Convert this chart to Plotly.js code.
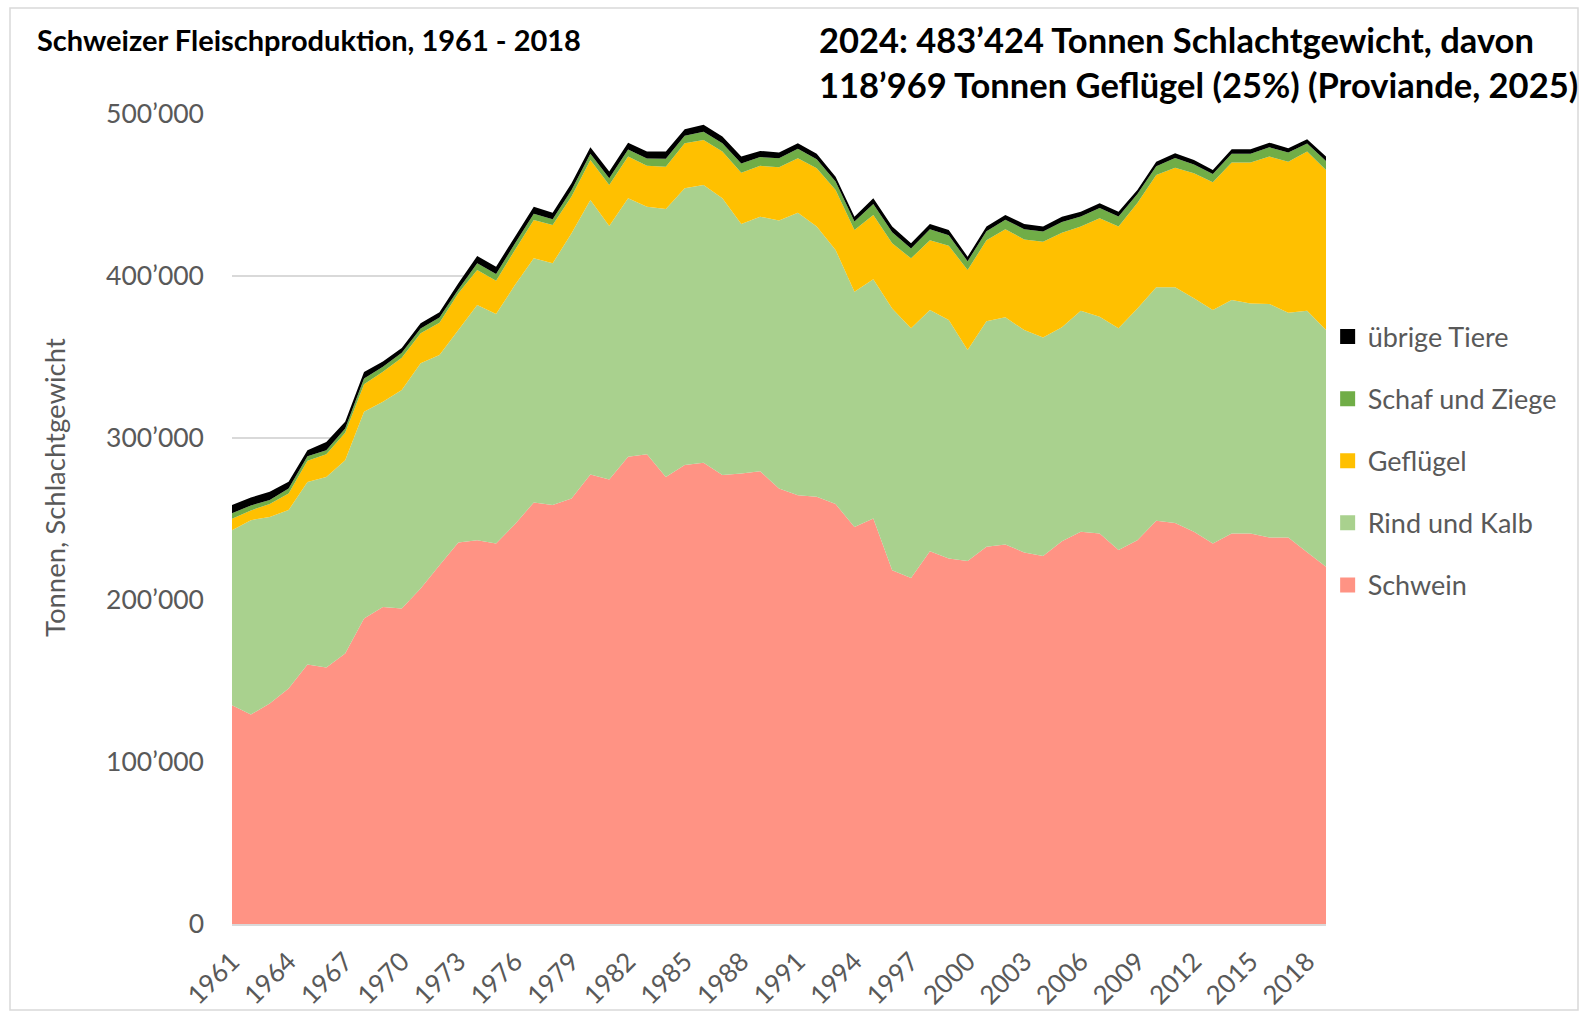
<!DOCTYPE html>
<html>
<head>
<meta charset="utf-8">
<script src="https://cdn.plot.ly/plotly-3.0.1.min.js"></script>
<style>html,body{margin:0;padding:0;background:#fff;}#chart{width:1581px;height:1016px;}</style>
</head>
<body>
<div id="chart"></div>
<script>
const years = [1961,1962,1963,1964,1965,1966,1967,1968,1969,1970,
  1971,1972,1973,1974,1975,1976,1977,1978,1979,1980,
  1981,1982,1983,1984,1985,1986,1987,1988,1989,1990,
  1991,1992,1993,1994,1995,1996,1997,1998,1999,2000,
  2001,2002,2003,2004,2005,2006,2007,2008,2009,2010,
  2011,2012,2013,2014,2015,2016,2017,2018,2019];

const schwein = [135000,129300,136100,145300,160200,158300,167000,188600,195700,194700,
  207100,221500,235500,236900,234900,246800,260200,258600,262700,277500,
  274400,288400,289900,276000,283300,284700,277100,278100,279400,268900,
  264700,263700,259200,245100,250300,218400,213600,230100,225600,224000,
  232800,234300,229300,227100,236300,242100,241100,230800,236900,248900,
  247600,242100,234900,241100,241100,238600,238600,229500,220500];

const rindKalb = [108100,120000,115200,110200,112700,117700,119300,127600,126700,134900,
  139000,129700,131100,145200,141600,147600,150700,149200,163700,169400,
  156500,159600,152900,165400,170900,171500,170900,154000,157200,165300,
  174400,166800,156900,145200,147700,161600,154100,148900,147200,130300,
  139200,140200,137300,135000,132000,136500,133800,136900,143100,144100,
  145400,144100,144100,144100,142000,144100,138700,149100,146100];

const gefluegel = [7000,6000,8000,10300,13000,14000,16900,17000,18500,20000,
  18500,20000,22700,21600,20600,21700,23700,23700,22600,24700,
  25300,25700,25200,26100,27800,27800,28800,31700,31400,32900,
  33600,36000,37000,38100,39700,40200,43200,43000,45900,49400,
  50000,54300,56000,59100,58400,51900,60700,62800,65100,69400,
  73800,77200,78900,84800,86900,91000,93300,98200,98900];

const schafZiege = [3500,3000,2500,3000,2900,2500,2700,3500,3100,3000,
  3000,3200,2400,4200,4100,3900,3900,3600,4100,3900,
  4100,4400,4500,4800,4600,5000,5100,5700,5400,5600,
  5800,5600,5200,5200,6800,6800,6100,6800,6500,5400,
  5700,5900,6300,6300,6700,6200,6300,6200,5500,5400,
  6000,5400,5000,5500,5500,5800,5600,5000,5500];

const uebrige = [5000,5000,5000,4200,3700,5000,4100,4100,3200,3000,
  3200,3200,3800,4500,4500,4300,4300,4000,4200,4000,
  4200,4200,4300,4500,4000,4300,4200,4200,3800,3500,
  3500,3300,3000,3000,3500,3500,3200,3300,3200,2800,
  2800,3000,3200,3000,3200,3000,3000,3000,2500,2800,
  3000,2800,2600,2800,2800,2800,2700,2600,2700];

const tickYears = [1961,1964,1967,1970,1973,1976,1979,1982,1985,1988,1991,1994,1997,2000,2003,2006,2009,2012,2015,2018];
const tickLabels = ['1961','1964','1967','1970','1973','1976','1979','1982','1985','1988','1991','1994','1997','2000','2003','2006','2009','2012','2015','2018'];

const seriesNames = ['Schwein','Rind und Kalb','Geflügel','Schaf und Ziege','übrige Tiere'];
const seriesValues = [schwein, rindKalb, gefluegel, schafZiege, uebrige];
const seriesColors = ['#FF9384','#A9D18E','#FFC000','#70AD47','#000000'];

const FONT = 'Lato, "Open Sans", sans-serif';
const GREY = '#595959';

const traces = [];
seriesNames.forEach((n, i) => {
  traces.push({
    x: years, y: seriesValues[i], type: 'scatter', mode: 'none',
    stackgroup: 'one', fillcolor: seriesColors[i], line: {width: 0},
    name: n, showlegend: false, hoverinfo: 'x+y+name'
  });
});
// legend entries (square markers), top to bottom
for (let i = seriesNames.length - 1; i >= 0; i--) {
  traces.push({
    x: [null], y: [null], type: 'scatter', mode: 'markers',
    marker: {symbol: 'square', size: 15, color: seriesColors[i]},
    name: seriesNames[i], legendgroup: seriesNames[i], showlegend: true, hoverinfo: 'skip'
  });
}

const L = 232, R = 255, T = 114, B = 92, W = 1581, H = 1016;
const pw = W - L - R, ph = H - T - B;
const px = v => (v - L) / pw;
const py = v => 1 - (v - T) / ph;

const layout = {
  width: W, height: H,
  margin: {l: L, r: R, t: T, b: B, autoexpand: false},
  paper_bgcolor: '#ffffff', plot_bgcolor: '#ffffff',
  separators: '.’',
  font: {family: FONT, color: GREY},
  title: {
    text: '<b>Schweizer Fleischproduktion, 1961 - 2018</b>',
    font: {family: FONT, size: 29, color: '#000000'},
    xref: 'container', yref: 'container', x: 37 / W, xanchor: 'left', y: 1 - 41 / H, yanchor: 'middle'
  },
  xaxis: {
    type: 'linear', range: [1961, 2019], tickmode: 'array', tickvals: tickYears, ticktext: tickLabels,
    tickangle: -45, tickfont: {family: FONT, size: 26, color: GREY},
    showgrid: false, zeroline: false, showline: true, linecolor: '#D9D9D9', linewidth: 2,
    ticks: '', ticklabelstandoff: 10, fixedrange: true
  },
  yaxis: {
    range: [0, 500000], dtick: 100000, tickformat: ',d',
    tickfont: {family: FONT, size: 26.5, color: GREY},
    showgrid: true, gridcolor: '#D9D9D9', gridwidth: 2, zeroline: false, showline: false,
    ticks: '', ticklabelstandoff: 27, automargin: false, fixedrange: true
  },
  legend: {
    x: 1.0015, xanchor: 'left', y: py(461), yanchor: 'middle',
    font: {family: FONT, size: 27, color: GREY},
    traceorder: 'grouped', tracegroupgap: 24, bgcolor: 'rgba(0,0,0,0)', itemwidth: 30
  },
  annotations: [
    {xref: 'paper', yref: 'paper', x: px(55), y: py(488), xanchor: 'center', yanchor: 'middle',
     text: 'Tonnen, Schlachtgewicht', textangle: -90, showarrow: false,
     font: {family: FONT, size: 27.5, color: GREY}},
    {xref: 'paper', yref: 'paper', x: px(817), y: py(39), xanchor: 'left', yanchor: 'middle',
     text: '<b>2024: 483’424 Tonnen Schlachtgewicht, davon</b>', showarrow: false,
     font: {family: FONT, size: 34.5, color: '#000000'}, align: 'left'},
    {xref: 'paper', yref: 'paper', x: px(817), y: py(84), xanchor: 'left', yanchor: 'middle',
     text: '<b>118’969 Tonnen Geflügel (25%) (Proviande, 2025)</b>', showarrow: false,
     font: {family: FONT, size: 34.5, color: '#000000'}, align: 'left'}
  ],
  shapes: [
    {type: 'rect', xref: 'paper', yref: 'paper', x0: px(10), x1: px(1578), y0: py(1010), y1: py(8),
     line: {color: '#D9D9D9', width: 1.5}, fillcolor: 'rgba(0,0,0,0)', layer: 'below'}
  ]
};

Plotly.newPlot('chart', traces, layout, {displayModeBar: false, responsive: false});
</script>
</body>
</html>
